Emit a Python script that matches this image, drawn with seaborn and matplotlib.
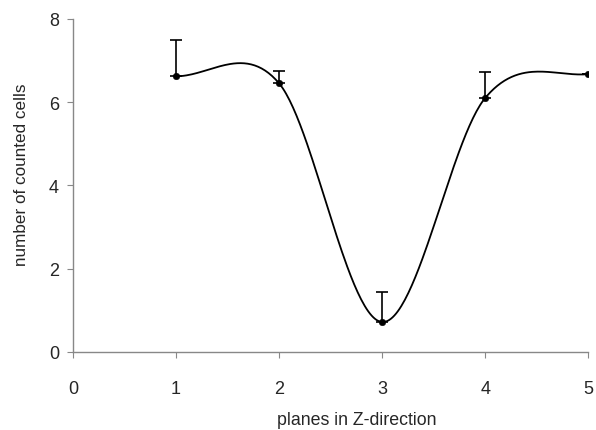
import numpy as np
import pandas as pd
import matplotlib
matplotlib.use("Agg")
import matplotlib.pyplot as plt
import seaborn as sns

planes = [1, 2, 3, 4, 5]
cells = [6.62, 6.45, 0.72, 6.10, 6.67]
err_upper = [0.88, 0.30, 0.72, 0.62, 0.0]
x_ticks = [0, 1, 2, 3, 4, 5]
y_ticks = [0, 2, 4, 6, 8]

sns.set_theme(style="white")
plt.rcParams['font.family'] = ['Liberation Sans', 'DejaVu Sans']

# smoothed line (Catmull-Rom / Excel-style smoothing through the data points)
xs = np.array(planes, float)
ys = np.array(cells, float)
n = len(xs)
m = np.zeros(n)
for i in range(1, n - 1):
    m[i] = (ys[i + 1] - ys[i - 1]) / (xs[i + 1] - xs[i - 1])
m[0] = 0.0
m[-1] = 0.2
cx, cy = [], []
for i in range(n - 1):
    t = np.linspace(0, 1, 60)
    h = xs[i + 1] - xs[i]
    h00 = 2 * t**3 - 3 * t**2 + 1
    h10 = t**3 - 2 * t**2 + t
    h01 = -2 * t**3 + 3 * t**2
    h11 = t**3 - t**2
    cx.extend(xs[i] + t * h)
    cy.extend(h00 * ys[i] + h10 * h * m[i] + h01 * ys[i + 1] + h11 * h * m[i + 1])
curve = pd.DataFrame({"x": cx, "y": cy})
pts = pd.DataFrame({"x": planes, "y": cells})

fig = plt.figure(figsize=(5.96, 4.31), dpi=100)
ax = fig.add_axes([0.1225, 0.181, 0.8645, 0.773])

sns.lineplot(data=curve, x="x", y="y", ax=ax, color="black", lw=1.3, sort=False)
ax.errorbar(planes, cells, yerr=[np.zeros(n), err_upper], fmt="none",
            ecolor="black", elinewidth=1.2, capsize=4, capthick=1.2)
sns.scatterplot(data=pts, x="x", y="y", ax=ax, color="black", s=22,
                marker="o", edgecolor="black", zorder=5)

ax.set_xlim(0, 5)
ax.set_ylim(0, 8)
ax.set_xticks(x_ticks)
ax.set_yticks(y_ticks)
ax.set_xlabel("planes in Z-direction", fontsize=12.8)
ax.set_ylabel("number of counted cells", fontsize=12.3)
ax.xaxis.set_label_coords(0.551, -0.177)
ax.yaxis.set_label_coords(-0.085, 0.535)
ax.tick_params(axis="both", labelsize=13, length=4, width=0.8, color="#888888",
               direction="out", bottom=True, left=True)
ax.tick_params(axis="x", pad=16)
ax.tick_params(axis="y", pad=6)
for s in ["top", "right"]:
    ax.spines[s].set_visible(False)
for s in ["left", "bottom"]:
    ax.spines[s].set_color("#888888")
    ax.spines[s].set_linewidth(1.0)

fig.savefig("out.png", dpi=100)
